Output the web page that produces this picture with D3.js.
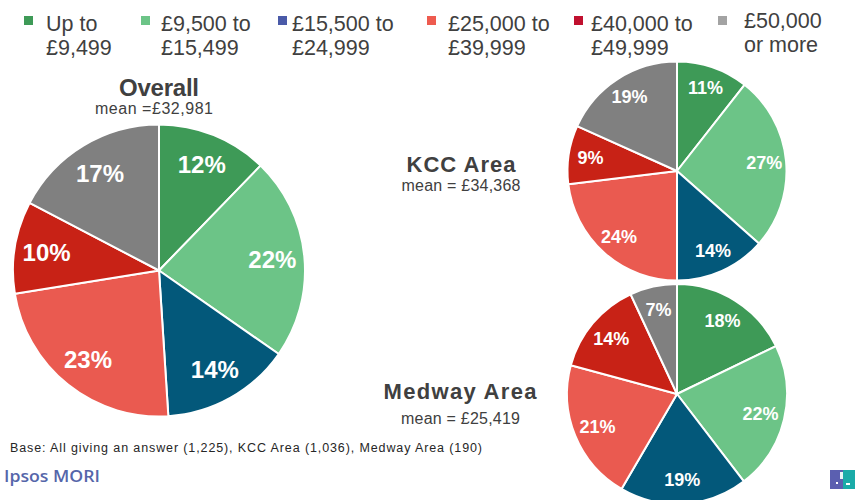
<!DOCTYPE html>
<html>
<head>
<meta charset="utf-8">
<script src="https://cdn.jsdelivr.net/npm/d3@7"></script>
<style>
  html, body { margin: 0; padding: 0; background: #fff; }
  svg { display: block; font-family: "Liberation Sans", Arial, sans-serif; }
</style>
</head>
<body>
<svg id="chart" width="855" height="500"></svg>
<script>
// ---------- DATA ----------
const categories = ["Up to £9,499", "£9,500 to £15,499", "£15,500 to £24,999",
                    "£25,000 to £39,999", "£40,000 to £49,999", "£50,000 or more"];
const legendLines = [["Up to", "£9,499"], ["£9,500 to", "£15,499"], ["£15,500 to", "£24,999"],
                     ["£25,000 to", "£39,999"], ["£40,000 to", "£49,999"], ["£50,000", "or more"]];
const overallValues = [12, 22, 14, 23, 10, 17];
const kccValues     = [11, 27, 14, 24, 9, 19];
const medwayValues  = [18, 22, 19, 21, 14, 7];
const chartTitles   = ["Overall", "KCC Area", "Medway Area"];
const meanLabels    = ["mean =£32,981", "mean = £34,368", "mean = £25,419"];
const baseNote      = "Base: All giving an answer (1,225), KCC Area (1,036), Medway Area (190)";
const brand         = "Ipsos MORI";

// ---------- STYLE / LAYOUT ----------
const sliceColors  = ["#3e9a57", "#6cc487", "#03587a", "#ea5a50", "#c82216", "#808080"];
const legendColors = ["#3e9a57", "#6cc487", "#4a5aa8", "#ee5b4f", "#c0102f", "#a3a3a3"];
const textColor = "#404040";

const svg = d3.select("#chart");

// legend layout (square x, text x)
const legendSquareX = [24, 141, 278, 427, 574, 718];
const legendTextX   = [46, 161, 292, 448, 591, 744];
const legendDy      = [0, 0, 0, 0, 0, -3];

const legend = svg.append("g");
categories.forEach((c, i) => {
  legend.append("rect")
    .attr("x", legendSquareX[i]).attr("y", 16)
    .attr("width", 9).attr("height", 9)
    .attr("fill", legendColors[i]);
  const t = legend.append("text")
    .attr("x", legendTextX[i]).attr("y", 31 + legendDy[i])
    .attr("fill", textColor)
    .style("font-size", "21.5px");
  legendLines[i].forEach((ln, j) => {
    t.append("tspan").attr("x", legendTextX[i]).attr("dy", j === 0 ? 0 : 24).text(ln);
  });
});

// pies
const pieGen = d3.pie().sort(null).value(d => d);

function drawPie(values, cx, cy, r, labelSize, labelRatio) {
  const g = svg.append("g").attr("transform", `translate(${cx},${cy})`);
  const arcs = pieGen(values);
  const arc = d3.arc().innerRadius(0).outerRadius(r);
  const labelArc = d3.arc().innerRadius(r * labelRatio).outerRadius(r * labelRatio);
  g.selectAll("path").data(arcs).join("path")
    .attr("d", arc)
    .attr("fill", (d, i) => sliceColors[i])
    .attr("stroke", "#fff")
    .attr("stroke-width", 2)
    .attr("stroke-linejoin", "round");
  g.selectAll("text").data(arcs).join("text")
    .attr("transform", d => `translate(${labelArc.centroid(d)})`)
    .attr("text-anchor", "middle")
    .attr("dominant-baseline", "central")
    .attr("fill", "#fff")
    .style("font-weight", "bold")
    .style("font-size", labelSize + "px")
    .text(d => d.data + "%");
}

drawPie(overallValues, 159, 270.5, 146, 24, 0.78);
drawPie(kccValues, 677, 171, 109.5, 18, 0.8);
drawPie(medwayValues, 677, 394, 110, 18, 0.78);

// titles
function titleText(txt, x, y, size, bold, width) {
  const t = svg.append("text")
    .attr("x", x).attr("y", y)
    .attr("text-anchor", "middle")
    .attr("fill", textColor)
    .style("font-size", size + "px")
    .style("font-weight", bold ? "bold" : "normal")
    .text(txt);
  if (width) t.attr("textLength", width).attr("lengthAdjust", "spacing");
  return t;
}
titleText(chartTitles[0], 159, 96, 24, true, 80);
titleText(meanLabels[0], 154, 114, 16, false, 118);
titleText(chartTitles[1], 461, 171.5, 22, true, 109);
titleText(meanLabels[1], 461, 191, 16, false, 119);
titleText(chartTitles[2], 460, 399, 22, true, 153);
titleText(meanLabels[2], 460.5, 424, 16, false, 119);

// footer
svg.append("text")
  .attr("x", 10).attr("y", 452)
  .attr("fill", "#262626")
  .style("font-size", "12.5px")
  .attr("textLength", 472).attr("lengthAdjust", "spacing")
  .text(baseNote);

svg.append("text")
  .attr("x", 4).attr("y", 482)
  .attr("fill", "#5566aa")
  .style("font-family", "'Open Sans', 'Noto Sans', sans-serif")
  .style("font-size", "17px")
  .style("font-weight", "600")
  .attr("textLength", 96).attr("lengthAdjust", "spacingAndGlyphs")
  .text(brand);

// small logo bottom right
const logo = svg.append("g");
logo.append("rect").attr("x", 830).attr("y", 470).attr("width", 15).attr("height", 19).attr("fill", "#5b5fb0");
logo.append("rect").attr("x", 843).attr("y", 470).attr("width", 12).attr("height", 19).attr("fill", "#1aaba8");
logo.append("rect").attr("x", 840).attr("y", 472).attr("width", 3).attr("height", 7).attr("fill", "#e8f4f4");
logo.append("rect").attr("x", 836).attr("y", 482).attr("width", 2).attr("height", 2).attr("fill", "#fff");
logo.append("rect").attr("x", 846).attr("y", 483).attr("width", 4).attr("height", 2).attr("fill", "#fff");
</script>
</body>
</html>
